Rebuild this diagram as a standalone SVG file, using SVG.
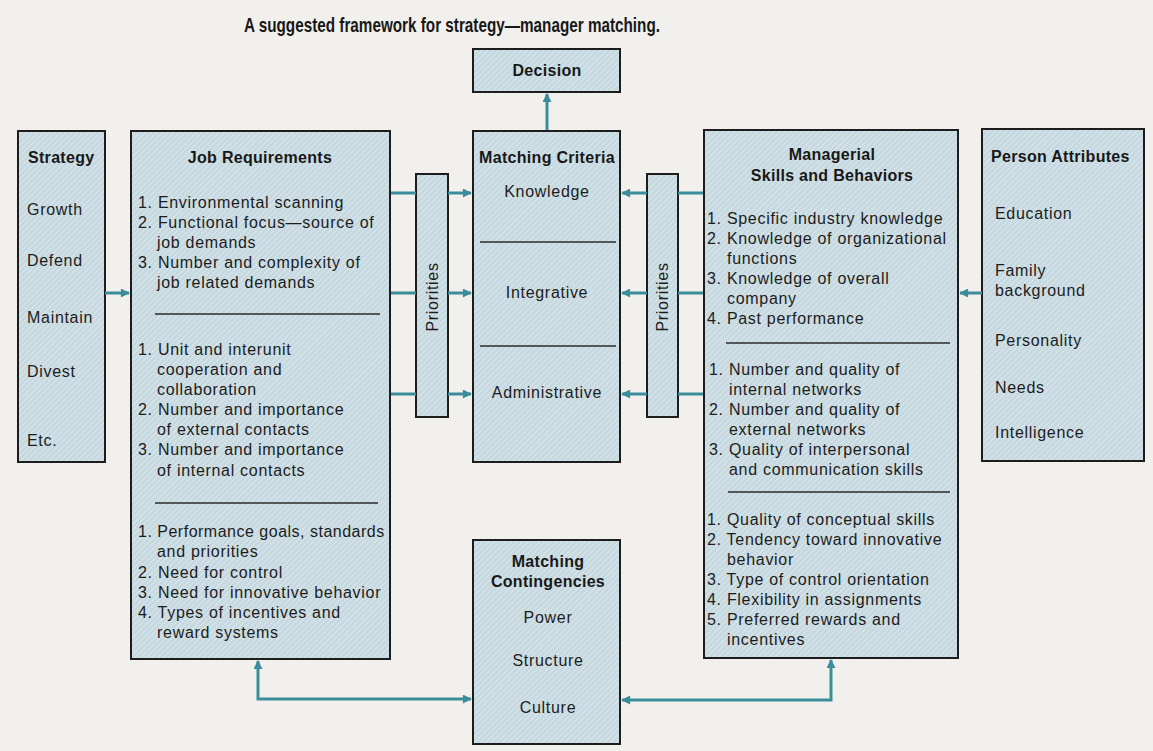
<svg xmlns="http://www.w3.org/2000/svg" width="1153" height="751" viewBox="0 0 1153 751">
  <defs>
    <!-- fine diagonal screen over the tinted box fill -->
    <pattern id="screen" width="4" height="4" patternUnits="userSpaceOnUse" patternTransform="rotate(45)">
      <rect width="4" height="4" fill="#c7d9e0"/>
      <line x1="0" y1="0" x2="0" y2="4" stroke="#e6eff2" stroke-width="1.2"/>
    </pattern>
    <marker id="ah" viewBox="0 0 10 10" refX="9" refY="5" markerWidth="3.4" markerHeight="3" orient="auto-start-reverse" markerUnits="strokeWidth">
      <path d="M0,0 L10,5 L0,10 Z" fill="#3c8d9b"/>
    </marker>
  </defs>
  <style>
    .box { fill: url(#screen); stroke: #1d1d1d; stroke-width: 2; }
    .rule { stroke: #2a2a2a; stroke-width: 1.3; }
    .h { font-family: "Liberation Sans", Arial, sans-serif; font-weight: bold; font-size: 16px; fill: #181818; letter-spacing: 0.3px; }
    .t { font-family: "Liberation Sans", Arial, sans-serif; font-size: 16px; fill: #1c1c1c; letter-spacing: 0.7px; }
    .c { text-anchor: middle; }
    .wire { fill: none; stroke: #3c8d9b; stroke-width: 3; }
    .arrow { fill: none; stroke: #3c8d9b; stroke-width: 3; marker-end: url(#ah); }
    .both { fill: none; stroke: #3c8d9b; stroke-width: 3; marker-start: url(#ah); marker-end: url(#ah); }
  </style>

  <rect width="1153" height="751" fill="#f2f0ec"/>

  <text x="452" y="32" class="h c" style="font-size:21px;letter-spacing:0" textLength="416" lengthAdjust="spacingAndGlyphs">A suggested framework for strategy—manager matching.</text>

  <g id="strategy">
    <rect class="box" x="18" y="131" width="87" height="331"/>
    <text class="h" x="28" y="163">Strategy</text>
    <text class="t" x="27" y="215">Growth</text>
    <text class="t" x="27" y="266">Defend</text>
    <text class="t" x="27" y="323">Maintain</text>
    <text class="t" x="27" y="377">Divest</text>
    <text class="t" x="27" y="446">Etc.</text>
  </g>

  <g id="job-requirements">
    <rect class="box" x="131" y="131" width="259" height="528"/>
    <text class="h c" x="260" y="163">Job Requirements</text>
    <text class="t" x="138" y="208">1. Environmental scanning</text>
    <text class="t" x="138" y="228">2. Functional focus—source of</text>
    <text class="t" x="157" y="248">job demands</text>
    <text class="t" x="138" y="268">3. Number and complexity of</text>
    <text class="t" x="157" y="288">job related demands</text>
    <line class="rule" x1="155" y1="314" x2="380" y2="314"/>
    <text class="t" x="138" y="355">1. Unit and interunit</text>
    <text class="t" x="157" y="375">cooperation and</text>
    <text class="t" x="157" y="395">collaboration</text>
    <text class="t" x="138" y="415">2. Number and importance</text>
    <text class="t" x="157" y="435">of external contacts</text>
    <text class="t" x="138" y="455">3. Number and importance</text>
    <text class="t" x="157" y="476">of internal contacts</text>
    <line class="rule" x1="155" y1="503" x2="378" y2="503"/>
    <text class="t" x="138" y="537" style="letter-spacing:0.5px">1. Performance goals, standards</text>
    <text class="t" x="157" y="557">and priorities</text>
    <text class="t" x="138" y="578">2. Need for control</text>
    <text class="t" x="138" y="598">3. Need for innovative behavior</text>
    <text class="t" x="138" y="618">4. Types of incentives and</text>
    <text class="t" x="157" y="638">reward systems</text>
  </g>

  <g id="priorities-left">
    <rect class="box" x="416" y="174" width="32" height="243"/>
    <text class="t c" transform="translate(438,297) rotate(-90)">Priorities</text>
  </g>

  <g id="decision">
    <rect class="box" x="473" y="49" width="147" height="43"/>
    <text class="h c" x="547" y="76">Decision</text>
  </g>

  <g id="matching-criteria">
    <rect class="box" x="473" y="131" width="147" height="331"/>
    <text class="h c" x="547" y="163">Matching Criteria</text>
    <text class="t c" x="547" y="197">Knowledge</text>
    <line class="rule" x1="480" y1="242" x2="616" y2="242"/>
    <text class="t c" x="547" y="298">Integrative</text>
    <line class="rule" x1="480" y1="346" x2="616" y2="346"/>
    <text class="t c" x="547" y="398">Administrative</text>
  </g>

  <g id="priorities-right">
    <rect class="box" x="647" y="174" width="31" height="243"/>
    <text class="t c" transform="translate(668,297) rotate(-90)">Priorities</text>
  </g>

  <g id="matching-contingencies">
    <rect class="box" x="473" y="540" width="147" height="204"/>
    <text class="h c" x="548" y="567">Matching</text>
    <text class="h c" x="548" y="587">Contingencies</text>
    <text class="t c" x="548" y="623">Power</text>
    <text class="t c" x="548" y="666">Structure</text>
    <text class="t c" x="548" y="713">Culture</text>
  </g>

  <g id="managerial-skills">
    <rect class="box" x="704" y="130" width="254" height="528"/>
    <text class="h c" x="832" y="160">Managerial</text>
    <text class="h c" x="832" y="181">Skills and Behaviors</text>
    <text class="t" x="707" y="224">1. Specific industry knowledge</text>
    <text class="t" x="707" y="244">2. Knowledge of organizational</text>
    <text class="t" x="727" y="264">functions</text>
    <text class="t" x="707" y="284">3. Knowledge of overall</text>
    <text class="t" x="727" y="304">company</text>
    <text class="t" x="707" y="324">4. Past performance</text>
    <line class="rule" x1="726" y1="343" x2="950" y2="343"/>
    <text class="t" x="709" y="375">1. Number and quality of</text>
    <text class="t" x="729" y="395">internal networks</text>
    <text class="t" x="709" y="415">2. Number and quality of</text>
    <text class="t" x="729" y="435">external networks</text>
    <text class="t" x="709" y="455">3. Quality of interpersonal</text>
    <text class="t" x="729" y="475">and communication skills</text>
    <line class="rule" x1="728" y1="492" x2="950" y2="492"/>
    <text class="t" x="707" y="525">1. Quality of conceptual skills</text>
    <text class="t" x="707" y="545">2. Tendency toward innovative</text>
    <text class="t" x="727" y="565">behavior</text>
    <text class="t" x="707" y="585">3. Type of control orientation</text>
    <text class="t" x="707" y="605">4. Flexibility in assignments</text>
    <text class="t" x="707" y="625">5. Preferred rewards and</text>
    <text class="t" x="727" y="645">incentives</text>
  </g>

  <g id="person-attributes">
    <rect class="box" x="982" y="129" width="162" height="332"/>
    <text class="h" x="991" y="162">Person Attributes</text>
    <text class="t" x="995" y="219">Education</text>
    <text class="t" x="995" y="276">Family</text>
    <text class="t" x="995" y="296">background</text>
    <text class="t" x="995" y="346">Personality</text>
    <text class="t" x="995" y="393">Needs</text>
    <text class="t" x="995" y="438">Intelligence</text>
  </g>

  <g id="connectors">
    <!-- strategy into job requirements -->
    <line class="arrow" x1="105" y1="293" x2="129" y2="293"/>
    <!-- job requirements through priorities into matching criteria -->
    <line class="wire" x1="391" y1="193" x2="416" y2="193"/>
    <line class="wire" x1="391" y1="293" x2="416" y2="293"/>
    <line class="wire" x1="391" y1="394" x2="416" y2="394"/>
    <line class="arrow" x1="448" y1="193" x2="471" y2="193"/>
    <line class="arrow" x1="448" y1="293" x2="471" y2="293"/>
    <line class="arrow" x1="448" y1="394" x2="471" y2="394"/>
    <!-- managerial skills through priorities into matching criteria -->
    <line class="wire" x1="703" y1="193" x2="678" y2="193"/>
    <line class="wire" x1="703" y1="293" x2="678" y2="293"/>
    <line class="wire" x1="703" y1="394" x2="678" y2="394"/>
    <line class="arrow" x1="647" y1="193" x2="622" y2="193"/>
    <line class="arrow" x1="647" y1="293" x2="622" y2="293"/>
    <line class="arrow" x1="647" y1="394" x2="622" y2="394"/>
    <!-- person attributes into managerial skills -->
    <line class="arrow" x1="982" y1="293" x2="960" y2="293"/>
    <!-- matching criteria up to decision -->
    <line class="arrow" x1="547" y1="130" x2="547" y2="94"/>
    <!-- contingencies linked both ways -->
    <path class="both" d="M258,661 V699 H471"/>
    <path class="both" d="M622,700 H831 V660"/>
  </g>
</svg>
